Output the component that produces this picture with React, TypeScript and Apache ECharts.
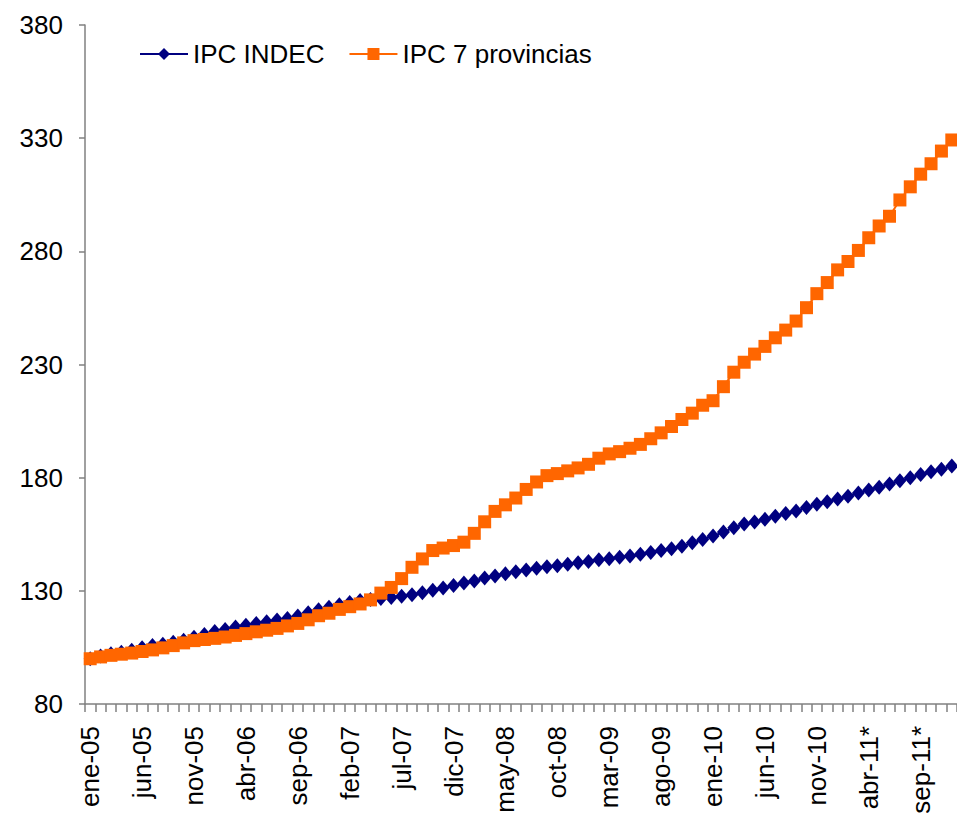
import React, { useEffect, useRef } from "react";
import * as echarts from "echarts";

const categories = [
  "ene-05","feb-05","mar-05","abr-05","may-05","jun-05","jul-05","ago-05","sep-05","oct-05","nov-05","dic-05",
  "ene-06","feb-06","mar-06","abr-06","may-06","jun-06","jul-06","ago-06","sep-06","oct-06","nov-06","dic-06",
  "ene-07","feb-07","mar-07","abr-07","may-07","jun-07","jul-07","ago-07","sep-07","oct-07","nov-07","dic-07",
  "ene-08","feb-08","mar-08","abr-08","may-08","jun-08","jul-08","ago-08","sep-08","oct-08","nov-08","dic-08",
  "ene-09","feb-09","mar-09","abr-09","may-09","jun-09","jul-09","ago-09","sep-09","oct-09","nov-09","dic-09",
  "ene-10","feb-10","mar-10","abr-10","may-10","jun-10","jul-10","ago-10","sep-10","oct-10","nov-10","dic-10",
  "ene-11*","feb-11*","mar-11*","abr-11*","may-11*","jun-11*","jul-11*","ago-11*","sep-11*","oct-11*","nov-11*","dic-11*",
];

const ipcIndec = [
  100, 101.2, 102.2, 102.9, 103.8, 104.8, 105.8, 106.4, 107.3, 108.2, 109.5, 110.7,
  112, 112.9, 114, 114.8, 115.6, 116.3, 117.1, 117.8, 118.9, 120.3, 121.6, 122.8,
  123.9, 124.8, 125.7, 126.2, 126.6, 127, 127.6, 128.3, 129.1, 130.3, 131.3, 132.4,
  133.5, 134.3, 135.7, 136.5, 137.5, 138.4, 139.2, 140, 140.6, 141.1, 141.7, 142.4,
  143, 143.7, 144.2, 144.8, 145.4, 146.2, 146.9, 147.8, 148.6, 149.7, 151.2, 152.7,
  154.2, 156, 157.9, 159.5, 160.4, 161.6, 163, 164.2, 165.3, 166.8, 168.3, 169.4,
  170.6, 171.8, 173.2, 174.6, 175.8, 177.2, 178.6, 180, 181.4, 182.6, 183.7, 185.1,
];

const ipc7Provincias = [
  100, 100.8, 101.5, 102, 102.5, 103.2, 103.9, 104.8, 105.8, 107, 108, 108.5,
  109, 109.6, 110.3, 111.1, 111.9, 112.6, 113.4, 114.5, 115.6, 117.2, 119, 120.1,
  121.8, 123, 124.2, 126, 129, 131.5, 135.4, 140.4, 144.1, 147.8, 148.9, 150,
  151.5, 155.4, 160.5, 165.1, 168, 171, 174.8, 178.1, 180.9, 181.8, 183, 184.3,
  185.9, 188.6, 190.5, 191.5, 193, 194.7, 197.2, 199.8, 202.6, 205.7, 208.5, 212,
  214, 220.2, 226.6, 231, 234.6, 238, 241.8, 245.2, 249.2, 255.1, 261.3, 266.2,
  271.8, 275.5, 280.4, 286, 291.2, 295.5, 302.7, 308.5, 314.1, 318.7, 324.3, 329.2,
];

const yTicks = { min: 80, max: 380, interval: 50 };

const FONT = "'Liberation Sans', Arial, sans-serif";

export default function App() {
  const ref = useRef<HTMLDivElement>(null);
  useEffect(() => {
    if (!ref.current) return;
    const chart = echarts.init(ref.current, null, { renderer: "svg" });
    chart.setOption({
      animation: false,
      backgroundColor: "#ffffff",
      textStyle: { fontFamily: FONT },
      legend: {
        left: 134,
        top: 36,
        itemWidth: 48,
        itemHeight: 15,
        itemGap: 24,
        textStyle: { fontSize: 26, color: "#000", fontFamily: FONT },
        data: ["IPC INDEC", "IPC 7 provincias"],
      },
      grid: { left: 85, top: 25, width: 874, bottom: 113 },
      xAxis: {
        type: "category",
        data: categories,
        boundaryGap: true,
        axisLine: { lineStyle: { color: "#808080", width: 1.5 } },
        axisTick: { show: true, interval: 0, length: 8, lineStyle: { color: "#808080", width: 1.5 } },
        axisLabel: {
          interval: 4,
          rotate: 90,
          fontSize: 26,
          color: "#000",
          margin: 22,
          fontFamily: FONT,
        },
        splitLine: { show: false },
      },
      yAxis: {
        type: "value",
        min: yTicks.min,
        max: yTicks.max,
        interval: yTicks.interval,
        axisLine: { show: true, lineStyle: { color: "#808080", width: 1.5 } },
        axisTick: { show: true, length: 6, lineStyle: { color: "#808080", width: 1.5 } },
        axisLabel: { fontSize: 26, color: "#000", margin: 22, fontFamily: FONT },
        splitLine: { show: false },
      },
      series: [
        {
          name: "IPC INDEC",
          type: "line",
          data: ipcIndec,
          symbol: "diamond",
          symbolSize: [13, 15],
          showAllSymbol: true,
          itemStyle: { color: "#000080" },
          lineStyle: { color: "#000080", width: 2 },
        },
        {
          name: "IPC 7 provincias",
          type: "line",
          data: ipc7Provincias,
          symbol: "rect",
          symbolSize: 13,
          showAllSymbol: true,
          itemStyle: { color: "#FF6600" },
          lineStyle: { color: "#FF6600", width: 2 },
        },
      ],
    });
    return () => chart.dispose();
  }, []);
  return (
    <div
      ref={ref}
      style={{ position: "fixed", left: 0, top: 0, width: 957, height: 817, background: "#fff" }}
    />
  );
}
